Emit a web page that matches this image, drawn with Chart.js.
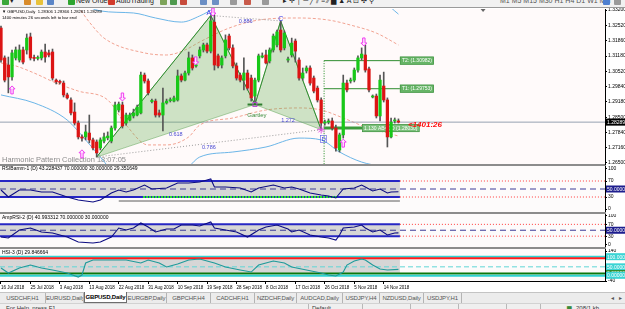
<!DOCTYPE html>
<html>
<head>
<meta charset="utf-8">
<script src="https://cdn.jsdelivr.net/npm/chart.js@4.4.1/dist/chart.umd.min.js"></script>
<style>
  html, body { margin: 0; padding: 0; }
  body { width: 625px; height: 309px; overflow: hidden; position: relative; background: #fff; font-family: 'Liberation Sans', Arial, sans-serif; }
  canvas { position: absolute; left: 0; }
  .sep { position: absolute; left: 0; width: 606px; height: 2px; background: #8c8c8c; }
  #toolbar { position: absolute; left: 0; top: 0; width: 625px; height: 7px; background: #f1f1f1; border-bottom: 1px solid #9a9a9a; overflow: hidden; z-index: 2; }
  #toolbar span { position: absolute; top: -4px; font-size: 7px; line-height: 9px; color: #222; white-space: nowrap; }
  #toolbar i { position: absolute; top: -3px; width: 7px; height: 8px; border-radius: 1px; }
  #tabs { position: absolute; left: 0; top: 292px; width: 625px; height: 11px; background: #ececec; border-top: 1px solid #c4c4c4; }
  .tab { position: absolute; top: 0; height: 10px; line-height: 10px; font-size: 6px; letter-spacing: -0.15px; color: #555; text-align: center; border-right: 1px solid #b4b4b4; box-sizing: border-box; white-space: nowrap; overflow: hidden; }
  .tab.on { background: #fff; color: #000; font-weight: bold; border: 1px solid #6e6e6e; border-top: none; top: -1px; height: 11px; }
  #status { position: absolute; left: 0; top: 303px; width: 625px; height: 6px; background: #efefef; border-top: 1px solid #d2d2d2; overflow: hidden; }
  #status span { position: absolute; top: 0; font-size: 6px; line-height: 8px; color: #333; }
  #status b { position: absolute; top: 0; width: 1px; height: 6px; background: #b8b8b8; }
</style>
</head>
<body>
<div id="toolbar">
  <i style="left:2px;background:#3aa83a"></i><span style="left:10px">▾</span>
  <i style="left:24px;background:#d98c2b"></i><i style="left:36px;background:#e8c23a"></i><i style="left:47px;background:#5b86c7"></i>
  <i style="left:68px;background:#2fa52f"></i><span style="left:76px">New Order</span>
  <i style="left:108px;background:#d23a2a"></i><span style="left:116px">AutoTrading</span>
  <i style="left:160px;background:#7da35a"></i><i style="left:170px;background:#4f9a4f"></i><i style="left:180px;background:#c74b3b"></i>
  <i style="left:200px;background:#6b8fc4"></i><i style="left:212px;background:#6b8fc4"></i>
  <i style="left:230px;background:#9a9a9a"></i><i style="left:244px;background:#c85b4b"></i><i style="left:262px;background:#9a9a9a"></i>
  <span style="left:283px">▸ ✛ │ ─ ╱ ⫽ ≡ ⁄⁄ ▆ ▲ A ⊡ ✣ ⚲</span>
  <span style="left:500px;color:#555">M1 M5 M15 M30 H1 H4 D1 W1 MN</span>
  <i style="left:603px;background:#4d7fd0"></i><i style="left:614px;background:#9a9a9a"></i>
</div>

<div class="sep" style="top:164px"></div>
<div class="sep" style="top:212px"></div>
<div class="sep" style="top:247px"></div>

<canvas id="cMain" width="625" height="160" style="top:6px"></canvas>
<canvas id="cRsi" width="625" height="46" style="top:166px"></canvas>
<canvas id="cAmp" width="625" height="33" style="top:214px"></canvas>
<canvas id="cHsi" width="625" height="43" style="top:249px"></canvas>

<div id="tabs">
  <div class="tab" style="left:0;width:46px">USDCHF,H1</div>
  <div class="tab" style="left:46px;width:38px">EURUSD,Daily</div>
  <div class="tab on" style="left:84px;width:43px">GBPUSD,Daily</div>
  <div class="tab" style="left:127px;width:40px">EURGBP,Daily</div>
  <div class="tab" style="left:167px;width:44px">GBPCHF,H4</div>
  <div class="tab" style="left:211px;width:44px">CADCHF,H1</div>
  <div class="tab" style="left:255px;width:42px">NZDCHF,Daily</div>
  <div class="tab" style="left:297px;width:46px">AUDCAD,Daily</div>
  <div class="tab" style="left:343px;width:37px">USDJPY,H4</div>
  <div class="tab" style="left:380px;width:44px">NZDUSD,Daily</div>
  <div class="tab" style="left:424px;width:38px">USDJPY,H1</div>
  <div class="tab" style="left:608px;width:8px;border:none">◂</div>
  <div class="tab" style="left:616px;width:8px;border:none">▸</div>
</div>
<div id="status">
  <span style="left:6px">For Help, press F1</span>
  <b style="left:308px"></b><span style="left:312px">Default</span>
  <b style="left:362px"></b><b style="left:410px"></b><b style="left:458px"></b><b style="left:506px"></b><b style="left:540px"></b>
  <span style="left:567px;color:#3a8a3a">▆</span><span style="left:576px">208/1 kb</span>
</div>

<script>
// GBPUSD daily, MT4 style (bar 0 = 16 Jul 2018, Sunday bars included)
const FONT = "'Liberation Sans', Arial, sans-serif";
const XMIN = -0.27, XMAX = 164.13;
const YMIN = 1.26455, YMAX = 1.33244;

const dateTickIdx = [0, 8, 16, 24, 32, 40, 48, 56, 64, 72, 80, 88, 96, 104];
const dateTickLabels = ['16 Jul 2018', '25 Jul 2018', '3 Aug 2018', '13 Aug 2018', '22 Aug 2018', '31 Aug 2018',
  '10 Sep 2018', '19 Sep 2018', '28 Sep 2018', '8 Oct 2018', '17 Oct 2018', '26 Oct 2018', '5 Nov 2018', '14 Nov 2018'];
const priceTicks = [1.332, 1.3252, 1.3186, 1.3118, 1.3052, 1.2984, 1.2918, 1.285, 1.2784, 1.2716, 1.265];
const lastPrice = 1.28289;

const opens = [1.3241, 1.3110, 1.3079, 1.3027, 1.3110, 1.3101, 1.3145, 1.3145, 1.3202, 1.3110,
  1.3108, 1.3110, 1.3136, 1.3132, 1.3136, 1.3013, 1.3005, 1.3000, 1.2948, 1.2926,
  1.2873, 1.2825, 1.2764, 1.2764, 1.2781, 1.2751, 1.2742, 1.2716, 1.2746, 1.2760,
  1.2746, 1.2803, 1.2882, 1.2904, 1.2825, 1.2838, 1.2856, 1.2860, 1.2869, 1.3035,
  1.3009, 1.2919, 1.2921, 1.2869, 1.2860, 1.2913, 1.2923, 1.2921, 1.2926, 1.3031,
  1.3013, 1.3044, 1.3110, 1.3075, 1.3119, 1.3145, 1.3167, 1.3140, 1.3267, 1.3119,
  1.3079, 1.3119, 1.3206, 1.3154, 1.3075, 1.3035, 1.3013, 1.3044, 1.3022, 1.2943,
  1.3013, 1.3114, 1.3123, 1.3097, 1.3145, 1.3167, 1.3232, 1.3154, 1.3101, 1.3123,
  1.3184, 1.3101, 1.3022, 1.3053, 1.3066, 1.3022, 1.2978, 1.2926, 1.2825, 1.2829,
  1.2834, 1.2803, 1.2707, 1.2773, 1.3000, 1.3009, 1.3013, 1.3057, 1.3110, 1.3123,
  1.3062, 1.2939, 1.2943, 1.2856, 1.2987, 1.2926, 1.2764, 1.2834, 1.2834];
const highs = [1.3250, 1.3119, 1.3114, 1.3145, 1.3158, 1.3167, 1.3158, 1.3215, 1.3219, 1.3123,
  1.3119, 1.3145, 1.3171, 1.3145, 1.3149, 1.3018, 1.3013, 1.3009, 1.2956, 1.2935,
  1.2913, 1.2834, 1.2773, 1.2816, 1.2860, 1.2759, 1.2751, 1.2760, 1.2781, 1.2786,
  1.2812, 1.2917, 1.2917, 1.2917, 1.2869, 1.2869, 1.2886, 1.2904, 1.3048, 1.3044,
  1.3018, 1.2930, 1.2930, 1.2882, 1.2978, 1.2930, 1.2935, 1.2943, 1.3057, 1.3040,
  1.3053, 1.3136, 1.3123, 1.3101, 1.3158, 1.3175, 1.3175, 1.3294, 1.3298, 1.3127,
  1.3119, 1.3211, 1.3215, 1.3167, 1.3088, 1.3044, 1.3110, 1.3057, 1.3035, 1.3022,
  1.3127, 1.3132, 1.3145, 1.3154, 1.3215, 1.3232, 1.3272, 1.3228, 1.3114, 1.3197,
  1.3193, 1.3110, 1.3066, 1.3075, 1.3075, 1.3031, 1.2987, 1.2935, 1.2838, 1.2843,
  1.2847, 1.2816, 1.2781, 1.3035, 1.3013, 1.3022, 1.3066, 1.3119, 1.3154, 1.3167,
  1.3070, 1.2948, 1.2952, 1.3035, 1.3048, 1.2935, 1.2847, 1.2847, 1.2843];
const lows = [1.3092, 1.3005, 1.2957, 1.3013, 1.3101, 1.3092, 1.3084, 1.3127, 1.3101, 1.3097,
  1.3101, 1.3101, 1.3092, 1.3114, 1.3013, 1.2996, 1.2996, 1.2939, 1.2930, 1.2860,
  1.2816, 1.2755, 1.2746, 1.2751, 1.2738, 1.2707, 1.2676, 1.2707, 1.2738, 1.2751,
  1.2738, 1.2794, 1.2873, 1.2803, 1.2816, 1.2834, 1.2847, 1.2856, 1.2865, 1.3000,
  1.2948, 1.2913, 1.2851, 1.2851, 1.2790, 1.2908, 1.2917, 1.2917, 1.2921, 1.3005,
  1.3009, 1.3035, 1.3057, 1.3070, 1.3110, 1.3136, 1.3132, 1.3132, 1.3057, 1.3066,
  1.3066, 1.3110, 1.3145, 1.3066, 1.3013, 1.3005, 1.2970, 1.2970, 1.2921, 1.2917,
  1.3005, 1.3110, 1.3084, 1.3088, 1.3136, 1.3158, 1.3136, 1.3145, 1.3092, 1.3114,
  1.3092, 1.3013, 1.3013, 1.3044, 1.2991, 1.2957, 1.2917, 1.2794, 1.2816, 1.2821,
  1.2794, 1.2702, 1.2698, 1.2759, 1.2961, 1.3000, 1.3005, 1.3048, 1.3101, 1.3048,
  1.2961, 1.2935, 1.2847, 1.2834, 1.2917, 1.2720, 1.2760, 1.2825, 1.2825];
const closes = [1.3101, 1.3013, 1.3027, 1.3132, 1.3145, 1.3145, 1.3092, 1.3197, 1.3110, 1.3108,
  1.3112, 1.3136, 1.3114, 1.3123, 1.3022, 1.3005, 1.3003, 1.2948, 1.2935, 1.2869,
  1.2825, 1.2764, 1.2759, 1.2786, 1.2751, 1.2716, 1.2694, 1.2751, 1.2764, 1.2768,
  1.2803, 1.2904, 1.2908, 1.2812, 1.2860, 1.2860, 1.2869, 1.2895, 1.3035, 1.3009,
  1.2957, 1.2924, 1.2860, 1.2860, 1.2913, 1.2921, 1.2926, 1.2935, 1.3031, 1.3013,
  1.3044, 1.3110, 1.3066, 1.3079, 1.3145, 1.3167, 1.3140, 1.3272, 1.3079, 1.3075,
  1.3110, 1.3189, 1.3154, 1.3075, 1.3022, 1.3013, 1.3044, 1.2978, 1.2935, 1.3013,
  1.3119, 1.3119, 1.3088, 1.3145, 1.3206, 1.3224, 1.3145, 1.3219, 1.3105, 1.3175,
  1.3140, 1.3022, 1.3044, 1.3066, 1.3000, 1.2965, 1.2926, 1.2825, 1.2829, 1.2834,
  1.2803, 1.2716, 1.2773, 1.3000, 1.2970, 1.3013, 1.3057, 1.3110, 1.3127, 1.3057,
  1.2970, 1.2943, 1.2856, 1.3013, 1.2926, 1.2764, 1.2829, 1.2838, 1.2829];

// envelope bands (read at sample bars)
const salmonUpIdx = [0, 8, 16, 21, 24, 28, 39, 45, 50, 54, 62, 70, 81, 89, 95, 102, 108];
const salmonUpVal = [1.3495, 1.3430, 1.3364, 1.3329, 1.3267, 1.3197, 1.3132, 1.3123, 1.3145, 1.3180, 1.3241, 1.3276, 1.3285, 1.3276, 1.3254, 1.3219, 1.3167];
const salmonLoIdx = [0, 4, 9, 15, 21, 29, 34, 40, 45, 51, 54, 63, 72, 81, 87, 93, 99, 105, 108];
const salmonLoVal = [1.3088, 1.3075, 1.3044, 1.3000, 1.2965, 1.2926, 1.2816, 1.2729, 1.2729, 1.2764, 1.2816, 1.2847, 1.2882, 1.2891, 1.2882, 1.2847, 1.2808, 1.2781, 1.2768];
const blueUpIdx = [16, 27, 36, 42, 49, 54, 58, 61, 70, 76, 81, 92, 100, 104, 108];
const blueUpVal = [1.3408, 1.3316, 1.3307, 1.3285, 1.3267, 1.3294, 1.3329, 1.3364, 1.3408, 1.3390, 1.3399, 1.3408, 1.3386, 1.3355, 1.3302];
const blueLoIdx = [0, 9, 18, 23, 27, 32, 40, 50, 54, 63, 72, 81, 87, 92, 98, 103, 108];
const blueLoVal = [1.2948, 1.2913, 1.2838, 1.2751, 1.2676, 1.2584, 1.2553, 1.2619, 1.2676, 1.2698, 1.2720, 1.2759, 1.2751, 1.2698, 1.2654, 1.2637, 1.2628];

// harmonic pattern X A B C D
const patternIdx = [26, 57, 69, 76, 87];
const patternPrice = [1.2676, 1.3296, 1.2906, 1.3272, 1.2796];
const ratioLabels = ['0.886', '0.618', '1.272', '0.786'];
const ratioPairs = [[1, 3], [0, 2], [2, 4], [0, 4]];
const targetLabels = ['T2: (1.30982)', 'T1: (1.29753)'];
const targetPrices = [1.30982, 1.29753];
const abcdLabel = '1.130 AB=CD (1.28030)';
const abcdPrice = 1.2803;
const targetFromIdx = 87.8, targetToIdx = 108.4, abcdToIdx = 98.1;

// signal arrows
const upArrowIdx = [3, 22, 93];
const upArrowPrice = [1.2970, 1.2690, 1.2737];
const downArrowIdx = [33, 52.9, 57.6, 98.6];
const downArrowPrice = [1.2939, 1.3097, 1.3311, 1.3180];

// indicator windows
const rsiIdx = [0, 2, 5, 8, 11, 14, 18, 21, 25, 27, 30, 32, 34, 36, 39, 41, 45, 48, 51, 54, 56, 57, 58, 61, 65, 68, 70, 74, 77, 79, 81, 84, 87, 89, 91, 93, 96, 98, 99, 101, 103, 105, 106, 108];
const rsiVal = [47.5, 30, 47.5, 47.5, 42.5, 42.5, 30, 22.5, 17.5, 22.5, 40, 47.5, 42.5, 47.5, 60, 50, 52.5, 65, 65, 67.5, 72.5, 75, 55, 55, 52.5, 42.5, 52.5, 60, 52.5, 55, 50, 40, 35, 32.5, 27.5, 50, 52.5, 60, 55, 45, 50, 40, 42.5, 43.2];
const ampIdx = [0, 2, 5, 8, 11, 14, 18, 21, 25, 27, 30, 32, 34, 36, 38, 40, 42, 45, 47, 49, 52, 54, 57, 58, 61, 64, 67, 70, 72, 75, 78, 79, 81, 84, 87, 89, 91, 92, 93, 96, 98, 99, 101, 103, 105, 107, 108];
const ampVal = [27.1, 23.7, 50.8, 57.6, 44.1, 40.7, 27.1, 10.2, 6.8, 10.2, 27.1, 57.6, 50.8, 57.6, 74.6, 61, 44.1, 54.2, 54.2, 67.8, 67.8, 64.4, 78, 57.6, 50.8, 44.1, 27.1, 50.8, 61, 67.8, 54.2, 44.1, 50.8, 33.9, 27.1, 23.7, 16.9, 33.9, 57.6, 61, 67.8, 57.6, 44.1, 50.8, 33.9, 40.7, 41];
const hsiIdx = [0, 2, 5, 8, 11, 14, 18, 21, 22, 23, 25, 30, 34, 38, 40, 43, 45, 48, 51, 54, 58, 61, 65, 68, 70, 74, 77, 79, 83, 87, 89, 91, 93, 94, 96, 98, 99, 101, 103, 105, 108];
const hsiVal = [37.8, 7.8, 37.8, 55.8, 37.8, 25.8, 7.8, -16.2, -4.2, 67.8, 85.8, 85.8, 85.8, 67.8, 85.8, 67.8, 43.8, 61.8, 85.8, 91.8, 67.8, 43.8, 25.8, 13.8, 55.8, 79.8, 67.8, 43.8, 25.8, 7.8, -4.2, -10.2, 13.8, 55.8, 79.8, 91.8, 85.8, 55.8, 31.8, 25.8, 29.8];

const pts = (idx, vals) => idx.map((x, k) => ({ x, y: vals[k] }));
const P = k => ({ x: patternIdx[k], y: patternPrice[k] });

function txt(ctx, s, x, y, size, color, align, base, weight) {
    ctx.font = `${weight || ''} ${size}px ${FONT}`;
    ctx.fillStyle = color;
    ctx.textAlign = align || 'left';
    ctx.textBaseline = base || 'middle';
    ctx.fillText(s, x, y);
}

function drawArrow(ctx, x, y, up) {
    const d = up ? 1 : -1;
    ctx.beginPath();
    ctx.moveTo(x, y - 4 * d);
    ctx.lineTo(x + 3, y - d);
    ctx.lineTo(x + 1.2, y - d);
    ctx.lineTo(x + 1.2, y + 4 * d);
    ctx.lineTo(x - 1.2, y + 4 * d);
    ctx.lineTo(x - 1.2, y - d);
    ctx.lineTo(x - 3, y - d);
    ctx.closePath();
    ctx.fillStyle = '#ffe4ff';
    ctx.fill();
    ctx.strokeStyle = '#f03cf0';
    ctx.lineWidth = 1;
    ctx.stroke();
}

function axisBox(ctx, x, y, text, bg, fg) {
    ctx.fillStyle = bg;
    ctx.fillRect(x, y - 3.5, 19, 7);
    txt(ctx, text, x + 1, y + 0.5, 5, fg);
}

function lineDs(data, color, width, dash, order, extra) {
    return Object.assign({ type: 'line', data, borderColor: color, borderWidth: width, borderDash: dash || [],
        pointRadius: 0, fill: false, order }, extra || {});
}

const ABCD_DS = 11;

const mainDeco = {
    id: 'mainDeco',
    beforeDraw(chart) {
        const { ctx, chartArea: a } = chart;
        ctx.save();
        ctx.fillStyle = '#fffafa';
        ctx.fillRect(a.left, a.top, a.right - a.left, a.bottom - a.top);
        ctx.restore();
    },
    beforeDatasetsDraw(chart) {
        const { ctx, chartArea: a } = chart;
        ctx.save();
        const s = 'Harmonic Pattern Collection 18:07:05';
        ctx.font = `8px ${FONT}`;
        const w = ctx.measureText(s).width;
        ctx.translate(a.left + 2, a.bottom - 2);
        ctx.scale(124 / w, 1);
        txt(ctx, s, 0, 0, 8, '#8c8c8c', 'left', 'alphabetic');
        ctx.restore();
    },
    afterDatasetDraw(chart, args) {
        if (args.index !== ABCD_DS) return;
        const { ctx, scales: { x, y } } = chart;
        ctx.save();
        const box = (label, xi, price, bg) => {
            ctx.font = `5px ${FONT}`;
            const w = ctx.measureText(label).width + 4;
            const bx = x.getPixelForValue(xi), by = y.getPixelForValue(price);
            ctx.fillStyle = bg;
            ctx.fillRect(bx, by - 4, w, 8);
            ctx.strokeStyle = '#3f8f3f';
            ctx.lineWidth = 0.6;
            ctx.strokeRect(bx + 0.3, by - 3.7, w - 0.6, 7.4);
            txt(ctx, label, bx + 2, by + 0.3, 5, '#ffffff');
        };
        targetLabels.forEach((t, k) => box(t, targetToIdx, targetPrices[k], '#66b466'));
        box(abcdLabel, abcdToIdx, abcdPrice, '#7cc07c');
        ctx.restore();
    },
    afterDatasetsDraw(chart) {
        const { ctx, chartArea: a, scales: { x, y } } = chart;
        const px = v => x.getPixelForValue(v), py = v => y.getPixelForValue(v);
        ctx.save();
        upArrowIdx.forEach((i, k) => drawArrow(ctx, px(i), py(upArrowPrice[k]), true));
        downArrowIdx.forEach((i, k) => drawArrow(ctx, px(i), py(downArrowPrice[k]), false));

        ratioPairs.forEach(([p, q], k) => {
            const mx = (px(patternIdx[p]) + px(patternIdx[q])) / 2;
            const my = (py(patternPrice[p]) + py(patternPrice[q])) / 2;
            txt(ctx, ratioLabels[k], mx, my + 1, 5.5, '#4a4ad2', 'center', 'top');
        });
        const ax = px(patternIdx[1]), ay = py(patternPrice[1]);
        const bx = px(patternIdx[2]), by = py(patternPrice[2]);
        const cx = px(patternIdx[3]), cy = py(patternPrice[3]);
        const dx = px(patternIdx[4]), dy = py(patternPrice[4]);
        txt(ctx, 'A', ax - 2, ay - 2.5, 7, '#3434e6', 'center');
        txt(ctx, 'C', cx, cy - 2, 7, '#3434e6', 'center');
        txt(ctx, 'Gartley', bx + 2, by + 11, 6, '#3c8c3c', 'center');
        // D label in a small frame
        txt(ctx, 'D', dx + 2.5, dy + 9.5, 6, '#3434e6', 'center');
        ctx.strokeStyle = '#5a5ae0';
        ctx.lineWidth = 0.6;
        ctx.strokeRect(dx - 0.5, dy + 6, 6, 7);
        // pattern point markers
        ctx.strokeStyle = '#b43cd2';
        ctx.lineWidth = 0.9;
        ctx.strokeRect(bx - 2, by - 2, 4, 4);
        ctx.strokeStyle = '#e050e0';
        for (let k = 0; k < 4; k++) {
            const t = k * Math.PI / 4;
            ctx.beginPath();
            ctx.moveTo(dx - 4 * Math.cos(t), dy - 4 * Math.sin(t));
            ctx.lineTo(dx + 4 * Math.cos(t), dy + 4 * Math.sin(t));
            ctx.stroke();
        }

        // header
        txt(ctx, '▼ GBPUSD,Daily  1.28306 1.28366 1.28281 1.28289', a.left + 2, a.top + 2.5, 4.2, '#000');
        txt(ctx, '1400 minutes 26 seconds left to bar end', a.left + 2, a.top + 8.5, 4.2, '#000');
        // bar timer
        txt(ctx, '<1401:26', px(closes.length - 1) + 9.5, py(lastPrice) + 2.5, 8, '#ff1010', 'left', 'middle', 'italic bold');
        ctx.restore();
    },
    afterDraw(chart) {
        const { ctx, chartArea: a, scales: { x, y } } = chart;
        ctx.save();
        axisBox(ctx, a.right + 1, y.getPixelForValue(lastPrice), lastPrice.toFixed(5), '#000', '#fff');
        // chart shift marker
        const sx = x.getPixelForValue(131);
        ctx.fillStyle = '#666';
        ctx.beginPath();
        ctx.moveTo(sx - 2.5, a.top);
        ctx.lineTo(sx + 2.5, a.top);
        ctx.lineTo(sx, a.top + 3);
        ctx.closePath();
        ctx.fill();
        ctx.restore();
    }
};

const candleIdx = opens.map((_, i) => i);
const bodyColors = candleIdx.map(i => closes[i] >= opens[i] ? '#18c818' : '#dc1414');

new Chart(document.getElementById('cMain'), {
    type: 'bar',
    data: {
        datasets: [
            lineDs(pts(salmonUpIdx, salmonUpVal), '#f2a392', 1, [3, 2], 30, { cubicInterpolationMode: 'monotone' }),
            lineDs(pts(salmonLoIdx, salmonLoVal), '#f2a392', 1, [3, 2], 30, { cubicInterpolationMode: 'monotone' }),
            lineDs(pts(blueUpIdx, blueUpVal), '#6cb6e8', 1, [], 30, { cubicInterpolationMode: 'monotone' }),
            lineDs(pts(blueLoIdx, blueLoVal), '#6cb6e8', 1, [], 30, { cubicInterpolationMode: 'monotone' }),
            lineDs([{ x: XMIN, y: lastPrice }, { x: XMAX, y: lastPrice }], '#97a1b2', 1, [], 29),
            lineDs([P(0), P(1), P(2), P(0)], 'rgba(80,155,70,0.45)', 1, [], 28, { fill: 'shape', backgroundColor: 'rgba(105,180,90,0.33)' }),
            lineDs([P(2), P(3), P(4), P(2)], 'rgba(80,155,70,0.45)', 1, [], 28, { fill: 'shape', backgroundColor: 'rgba(105,180,90,0.33)' }),
            lineDs([P(0), P(4)], '#9c9c9c', 1, [1, 2], 27),
            lineDs([P(1), P(3)], '#9c9c9c', 1, [1, 2], 27),
            lineDs([P(0), P(1), P(2), P(3), P(4)], '#2f8c2f', 1, [], 26),
            lineDs([{ x: targetFromIdx, y: targetPrices[0] }, { x: targetToIdx, y: targetPrices[0] }], '#2f8c2f', 1, [], 25),
            lineDs([{ x: targetFromIdx, y: abcdPrice }, { x: abcdToIdx, y: abcdPrice }], '#3c9a3c', 3, [], 25),
            lineDs([{ x: targetFromIdx, y: targetPrices[1] }, { x: targetToIdx, y: targetPrices[1] }], '#2f8c2f', 1, [], 25),
            lineDs([{ x: targetFromIdx, y: targetPrices[0] }, { x: targetFromIdx, y: YMIN }], '#1d8a1d', 1, [1, 1.5], 25),
            lineDs([{ x: patternIdx[2] - 2, y: patternPrice[2] }, { x: patternIdx[2] + 2, y: patternPrice[2] }], '#2d7d2d', 2, [], 24),
            {
                type: 'bar', data: candleIdx.map(i => ({ x: i, y: [lows[i], highs[i]] })),
                backgroundColor: '#555555', barThickness: 1, grouped: false, order: 2
            },
            {
                type: 'bar', data: candleIdx.map(i => ({ x: i, y: [opens[i], closes[i]] })),
                backgroundColor: bodyColors, barThickness: 2.6, minBarLength: 1, grouped: false, order: 1
            }
        ]
    },
    options: {
        responsive: false, animation: false, devicePixelRatio: 1,
        layout: { padding: { top: 3, bottom: 2, left: 0, right: 0 } },
        plugins: { legend: { display: false }, tooltip: { enabled: false } },
        scales: {
            x: { type: 'linear', min: XMIN, max: XMAX, offset: false, bounds: 'data', display: false },
            y: {
                type: 'linear', position: 'right', min: YMIN, max: YMAX, beginAtZero: false, bounds: 'data',
                afterBuildTicks: s => { s.ticks = priceTicks.map(v => ({ value: v })); },
                afterFit: s => { s.width = 20; s.paddingTop = 0; s.paddingBottom = 0; },
                ticks: { autoSkip: false, padding: 1, color: '#000', font: { size: 5, family: FONT }, callback: v => v.toFixed(5) },
                grid: { drawOnChartArea: false, tickLength: 2, color: '#000' },
                border: { color: '#000' }
            }
        }
    },
    plugins: [mainDeco]
});

function makePanel(id, cfg) {
    const deco = {
        id: 'panelDeco',
        beforeDraw(chart) {
            const { ctx, chartArea: a } = chart;
            ctx.save();
            ctx.fillStyle = '#fdfbfb';
            ctx.fillRect(a.left, a.top, a.right - a.left, a.bottom - a.top);
            ctx.restore();
        },
        beforeDatasetsDraw(chart) {
            const { ctx, scales: { x, y } } = chart;
            ctx.save();
            cfg.bands.forEach(b => {
                const x0 = x.getPixelForValue(b.x0), x1 = x.getPixelForValue(b.x1);
                const y0 = y.getPixelForValue(b.hi), y1 = y.getPixelForValue(b.lo);
                ctx.fillStyle = b.color;
                ctx.fillRect(x0, y0, x1 - x0, y1 - y0);
            });
            cfg.rules.forEach(r => {
                const yy = y.getPixelForValue(r.v);
                ctx.strokeStyle = r.color;
                ctx.lineWidth = r.w;
                ctx.setLineDash(r.dash || []);
                ctx.beginPath();
                ctx.moveTo(x.getPixelForValue(r.x0), yy);
                ctx.lineTo(x.getPixelForValue(r.x1), yy);
                ctx.stroke();
            });
            ctx.restore();
        },
        afterDraw(chart) {
            const { ctx, chartArea: a, scales: { y } } = chart;
            ctx.save();
            txt(ctx, cfg.title, a.left + 2, a.top + cfg.titleY, 5, '#000');
            cfg.boxes.forEach(b => axisBox(ctx, a.right + 1, y.getPixelForValue(b.v), b.text, b.bg, b.fg));
            ctx.restore();
        }
    };
    const xScale = cfg.dates ? {
        type: 'linear', min: XMIN, max: XMAX, bounds: 'data', position: 'bottom',
        afterBuildTicks: s => { s.ticks = dateTickIdx.map(v => ({ value: v })); },
        afterFit: s => { s.height = 11; s.paddingLeft = 0; s.paddingRight = 0; },
        ticks: { autoSkip: false, maxRotation: 0, minRotation: 0, align: 'start', padding: 1, color: '#000',
            font: { size: 4.5, family: FONT }, callback: (v, i) => dateTickLabels[i] },
        grid: { drawOnChartArea: false, tickLength: 3, color: '#000' },
        border: { color: '#000' }
    } : { type: 'linear', min: XMIN, max: XMAX, bounds: 'data', display: false };

    return new Chart(document.getElementById(id), {
        type: 'line',
        data: { datasets: [{ data: pts(cfg.idx, cfg.vals), borderColor: cfg.color, borderWidth: 1.1, pointRadius: 0, fill: false }] },
        options: {
            responsive: false, animation: false, devicePixelRatio: 1,
            layout: { padding: 0 },
            plugins: { legend: { display: false }, tooltip: { enabled: false } },
            scales: {
                x: xScale,
                y: {
                    type: 'linear', position: 'right', min: cfg.min, max: cfg.max, bounds: 'data',
                    afterBuildTicks: s => { s.ticks = cfg.ticks.map(v => ({ value: v })); },
                    afterFit: s => { s.width = 20; s.paddingTop = 0; s.paddingBottom = 0; },
                    ticks: { autoSkip: false, padding: 1, color: '#000', font: { size: 5, family: FONT } },
                    grid: { drawOnChartArea: false, tickLength: 2, color: '#000' },
                    border: { color: '#000' }
                }
            }
        },
        plugins: [deco]
    });
}

const LAST = 108.4;
const rsiRules = (extra) => [
    { v: 70, x0: XMIN, x1: LAST, color: '#2626c4', w: 2 },
    { v: 30, x0: XMIN, x1: LAST, color: '#2626c4', w: 2 },
    ...extra,
    { v: 50, x0: XMIN, x1: XMAX, color: '#3c3c98', w: 1, dash: [6, 4] },
    { v: 70, x0: LAST, x1: XMAX, color: '#ff3a3a', w: 1, dash: [1, 2] },
    { v: 30, x0: LAST, x1: XMAX, color: '#ff3a3a', w: 1, dash: [1, 2] }
];

makePanel('cRsi', {
    idx: rsiIdx, vals: rsiVal, color: '#0c0c82', min: -7.5, max: 107.5, ticks: [100, 70, 30, 0],
    title: 'RSIBamm-1 (D) 43.228437 70.000000 30.000000 29.351649', titleY: 3,
    bands: [{ x0: XMIN, x1: LAST, lo: 30, hi: 70, color: '#d6d6d6' }],
    rules: rsiRules([
        { v: 30, x0: 38.6, x1: 91.3, color: '#2ee62e', w: 2, dash: [2, 1] },
        { v: 20, x0: 32, x1: LAST, color: '#5a5a5a', w: 1 }
    ]),
    boxes: [{ v: 50, text: '50.00000', bg: '#1e1e8e', fg: '#fff' }]
});

makePanel('cAmp', {
    idx: ampIdx, vals: ampVal, color: '#0c0c82', min: -6.8, max: 105.1, ticks: [100, 70, 30, 0],
    title: 'AmpRSI-2 (D) 40.993312 70.000000 30.000000', titleY: 4,
    bands: [{ x0: XMIN, x1: LAST, lo: 30, hi: 70, color: '#d6d6d6' }],
    rules: rsiRules([]),
    boxes: [{ v: 50, text: '50.00000', bg: '#1e1e8e', fg: '#fff' }]
});

makePanel('cHsi', {
    idx: hsiIdx, vals: hsiVal, color: '#1e9a9a', min: -40, max: 152, ticks: [140, -40], dates: true,
    title: 'HSI-3 (D) 29.846664', titleY: 4,
    bands: [{ x0: XMIN, x1: LAST, lo: 2, hi: 98, color: '#d6d6d6' }],
    rules: [
        { v: 106, x0: XMIN, x1: XMAX, color: '#2fd2d2', w: 2 },
        { v: 96, x0: XMIN, x1: XMAX, color: '#ff1c1c', w: 2 },
        { v: 45, x0: XMIN, x1: XMAX, color: '#5ed6d6', w: 1, dash: [5, 3] },
        { v: 5, x0: XMIN, x1: XMAX, color: '#0c780c', w: 2 },
        { v: -8, x0: XMIN, x1: XMAX, color: '#2fd2d2', w: 2 }
    ],
    boxes: [
        { v: 106, text: '100.0000', bg: '#3cd4d4', fg: '#fff' },
        { v: 45, text: '50.00000', bg: '#3cd4d4', fg: '#fff' },
        { v: 5, text: '0.00000', bg: '#2f8f2f', fg: '#fff' },
        { v: -6, text: '0.00000', bg: '#3cd4d4', fg: '#fff' }
    ]
});
</script>
</body>
</html>
